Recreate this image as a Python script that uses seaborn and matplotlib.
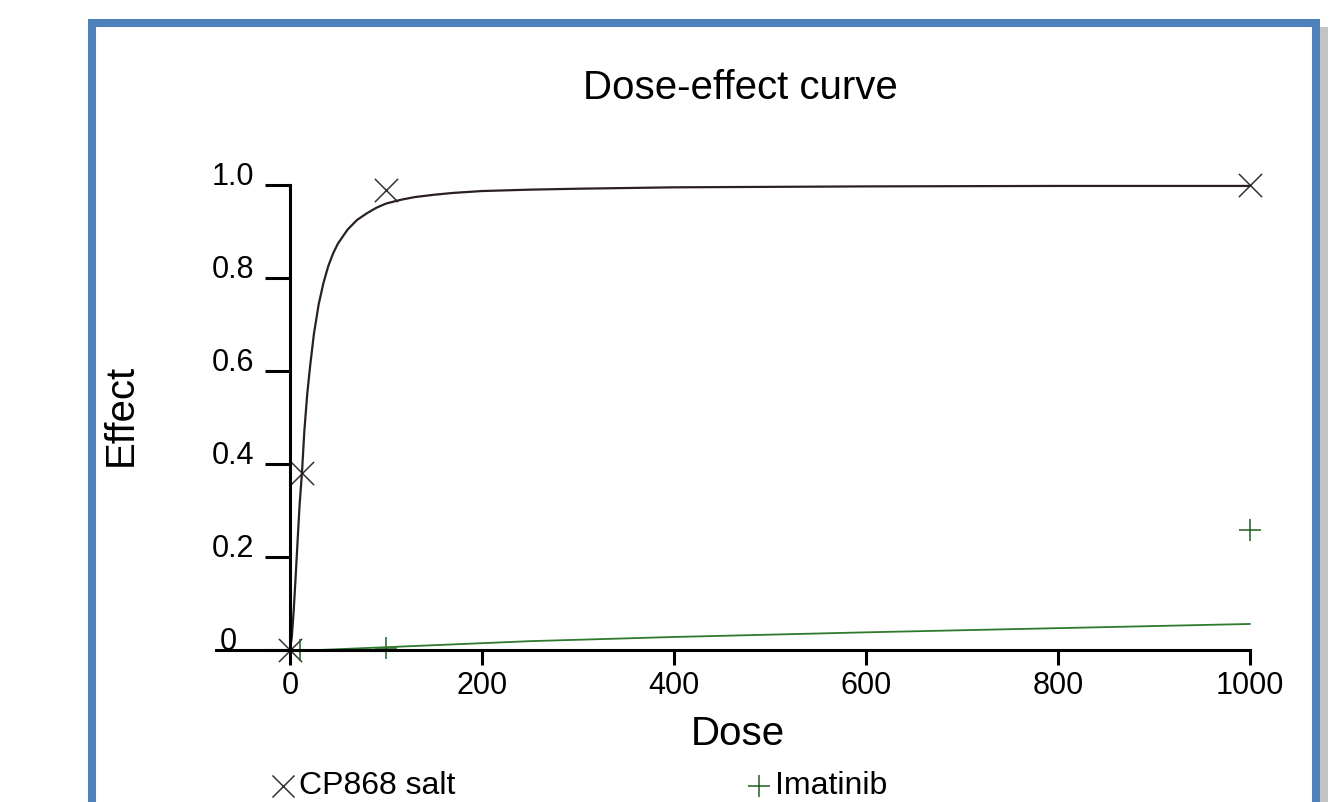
import matplotlib
matplotlib.use("Agg")
import matplotlib.pyplot as plt
from matplotlib.patches import Rectangle
import seaborn as sns
import pandas as pd

cp868_dose = [0, 12.5, 100, 1000]
cp868_effect = [0.0, 0.38, 0.99, 1.0]
imatinib_dose = [10, 100, 1000]
imatinib_effect = [0.0, 0.005, 0.258]

# curvas ajustadas
cp868_curve_dose = [0, 2, 4, 6, 8, 10, 12.5, 15, 18, 21, 25, 30, 35, 40, 45, 50,
                    60, 70, 80, 90, 100, 115, 130, 150, 170, 200, 250, 300,
                    400, 600, 800, 1000]
cp868_curve_effect = [0.0, 0.028, 0.087, 0.159, 0.235, 0.31, 0.38, 0.47, 0.55,
                      0.61, 0.68, 0.744, 0.79, 0.826, 0.853, 0.874, 0.904, 0.925,
                      0.939, 0.951, 0.96, 0.968, 0.974, 0.979, 0.983, 0.987,
                      0.99, 0.992, 0.995, 0.997, 0.998, 0.998]
imatinib_curve_dose = [30, 100, 250, 400, 600, 800, 1000]
imatinib_curve_effect = [0.0, 0.006, 0.019, 0.028, 0.038, 0.047, 0.056]

y_ticks = [0, 0.2, 0.4, 0.6, 0.8, 1.0]
y_tick_labels = ["0  ", "0.2", "0.4", "0.6", "0.8", "1.0"]
x_ticks = [0, 200, 400, 600, 800, 1000]

sns.set_style("white")
plt.rcParams['font.family'] = ['Liberation Sans', 'DejaVu Sans']
plt.rcParams['text.color'] = 'black'
plt.rcParams['axes.labelcolor'] = 'black'
plt.rcParams['xtick.color'] = 'black'
plt.rcParams['ytick.color'] = 'black'

W, H = 1332, 802
fig = plt.figure(figsize=(W / 100, H / 100), dpi=100)
ax = fig.add_axes([216 / W, 1 - 650 / H, (1250 - 216) / W, (650 - 185) / H])

cor_cp = '#2a2020'
cor_im = '#2f7a2f'

df_cp_curve = pd.DataFrame({'Dose': cp868_curve_dose, 'Effect': cp868_curve_effect})
df_im_curve = pd.DataFrame({'Dose': imatinib_curve_dose, 'Effect': imatinib_curve_effect})
df_cp = pd.DataFrame({'Dose': cp868_dose, 'Effect': cp868_effect})
df_im = pd.DataFrame({'Dose': imatinib_dose, 'Effect': imatinib_effect})

sns.lineplot(data=df_cp_curve, x='Dose', y='Effect', ax=ax, color=cor_cp, linewidth=1.6)
sns.lineplot(data=df_im_curve, x='Dose', y='Effect', ax=ax, color=cor_im, linewidth=1.3)
sns.scatterplot(data=df_cp, x='Dose', y='Effect', ax=ax, marker='x', s=280,
                color='#333333', linewidth=1.1, label='CP868 salt')
sns.scatterplot(data=df_im, x='Dose', y='Effect', ax=ax, marker='+', s=260,
                color='#1f5f1f', linewidth=1.1, label='Imatinib')
for art in ax.collections + ax.lines:
    art.set_clip_on(False)

ax.set_xlim(-77, 1000)
ax.set_ylim(0, 1)
ax.spines['left'].set_position(('data', 0))
ax.spines['left'].set_bounds(0, 1)
ax.spines['top'].set_visible(False)
ax.spines['right'].set_visible(False)
for s in ['left', 'bottom']:
    ax.spines[s].set_linewidth(2.2)
    ax.spines[s].set_color('black')

ax.set_xticks(x_ticks)
ax.set_xticklabels([str(t) for t in x_ticks])
ax.set_yticks(y_ticks)
ax.set_yticklabels(y_tick_labels)
ax.tick_params(axis='y', direction='out', length=18, width=2.2, pad=8,
               labelsize=22, left=True, color='black', labelcolor='black')
ax.tick_params(axis='x', direction='out', length=11, width=2.2, pad=4,
               labelsize=22, bottom=True, color='black', labelcolor='black')
for lbl in ax.get_yticklabels():
    lbl.set_verticalalignment('baseline')

ax.set_xlabel('Dose', fontsize=29, color='black')
ax.set_ylabel('Effect', fontsize=29, color='black')
ax.xaxis.set_label_coords(738 / W, 1 - 715 / H, transform=fig.transFigure)
ax.yaxis.set_label_coords(140 / W, 1 - 415 / H, transform=fig.transFigure)

fig.text(740 / W, 1 - 88 / H, 'Dose-effect curve', fontsize=29,
         ha='center', va='center', color='black')

leg = ax.legend(loc='center left', bbox_to_anchor=(270 / W, 1 - 786 / H),
                bbox_transform=fig.transFigure, ncol=2, frameon=False,
                fontsize=23, handlelength=0.8, handletextpad=0.1,
                columnspacing=9.1, borderpad=0, borderaxespad=0, markerscale=0.95)
for t in leg.get_texts():
    t.set_color('black')

# moldura azul com sombra
fig.patches.append(Rectangle((1320 / W, 0), 8 / W, 1 - 27 / H,
                             transform=fig.transFigure, facecolor='#c4c4c4',
                             edgecolor='none', zorder=0))
fig.patches.append(Rectangle((92 / W, -0.1), (1316 - 92) / W, 1.1 - 23 / H,
                             transform=fig.transFigure, fill=False,
                             edgecolor='#4F81BD', linewidth=5.8, zorder=1))

plt.savefig('out.png', dpi=100)
plt.close()
